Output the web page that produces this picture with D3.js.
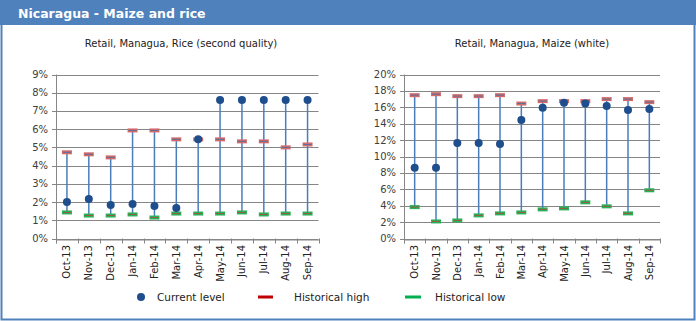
<!DOCTYPE html>
<html><head><meta charset="utf-8">
<script src="https://cdn.jsdelivr.net/npm/d3@7"></script>
<style>body{margin:0;background:#fff}svg{display:block}</style>
</head><body>
<svg id="c" width="696" height="321"></svg>
<script>
const months = ["Oct-13","Nov-13","Dec-13","Jan-14","Feb-14","Mar-14","Apr-14","May-14","Jun-14","Jul-14","Aug-14","Sep-14"];
const riceCurrent = [2.0,2.17,1.84,1.9,1.78,1.67,5.45,7.6,7.6,7.6,7.6,7.6];
const riceHigh = [4.73,4.62,4.45,5.93,5.93,5.44,5.44,5.44,5.33,5.33,5.0,5.16];
const riceLow = [1.43,1.26,1.26,1.32,1.15,1.37,1.37,1.37,1.43,1.32,1.37,1.37];
const maizeCurrent = [8.63,8.63,11.65,11.65,11.53,14.46,15.93,16.54,16.46,16.17,15.68,15.8];
const maizeHigh = [17.48,17.6,17.36,17.36,17.48,16.46,16.75,16.75,16.75,17.0,17.0,16.63];
const maizeLow = [3.83,2.08,2.2,2.82,3.06,3.18,3.55,3.67,4.41,3.92,3.06,5.88];
const riceTicks = [0,1,2,3,4,5,6,7,8,9];
const maizeTicks = [0,2,4,6,8,10,12,14,16,18,20];
const title = "Nicaragua - Maize and rice";
const riceTitle = "Retail, Managua, Rice (second quality)";
const maizeTitle = "Retail, Managua, Maize (white)";
const legendItems = ["Current level","Historical high","Historical low"];

const svg = d3.select("#c");
const blue = "#4f81bd";
const font = "'DejaVu Sans', Verdana, sans-serif";

// frame
svg.append("rect").attr("x",0).attr("y",0).attr("width",696).attr("height",25).attr("fill",blue);
svg.append("path").attr("d","M1.5,25 V319.5 H694.5 V25").attr("fill","none").attr("stroke",blue).attr("stroke-width",2);
svg.append("text").attr("x",18).attr("y",17.5).attr("fill","#fff").attr("font-family",font)
  .attr("font-weight","bold").attr("font-size",12.5).text(title);

function panel(cfg){
  const g = svg.append("g");
  const x = d3.scaleBand().domain(months).range([cfg.x0,cfg.x1]);
  const y = d3.scaleLinear().domain([0,cfg.max]).range([238.5,74.5]);
  g.append("text").attr("x",cfg.tx).attr("y",47).attr("text-anchor","middle")
    .attr("font-family",font).attr("font-size",10).attr("fill","#222").text(cfg.title);
  // gridlines
  g.selectAll(".grid").data(cfg.ticks).join("line")
    .attr("x1",cfg.x0-4).attr("x2",cfg.x1).attr("y1",d=>Math.round(y(d))+0.5).attr("y2",d=>Math.round(y(d))+0.5)
    .attr("stroke","#868686").attr("stroke-width",1);
  g.selectAll(".yl").data(cfg.ticks).join("text")
    .attr("x",cfg.x0-8).attr("y",d=>y(d)+3.5).attr("text-anchor","end")
    .attr("font-family",font).attr("font-size",10).attr("fill","#404040").text(d=>d+"%");
  // axes
  g.append("line").attr("x1",cfg.x0+0.5).attr("x2",cfg.x0+0.5).attr("y1",y(cfg.max)).attr("y2",y(0)+5)
    .attr("stroke","#868686");
  const xa = g.append("g").attr("transform",`translate(0,${Math.round(y(0))+0.5})`)
    .call(d3.axisBottom(x).tickSize(0).tickFormat(""));
  xa.select(".domain").attr("stroke","#868686");
  const bounds = months.map(m=>x(m)).concat([cfg.x1]);
  g.selectAll(".xt").data(bounds).join("line")
    .attr("x1",d=>Math.round(d)+0.5).attr("x2",d=>Math.round(d)+0.5).attr("y1",y(0)).attr("y2",y(0)+5).attr("stroke","#868686");
  g.selectAll(".xl").data(months).join("text")
    .attr("transform",d=>`translate(${x(d)+x.bandwidth()/2+3.5},245) rotate(-90)`)
    .attr("text-anchor","end").attr("font-family",font).attr("font-size",10).attr("fill","#222").text(d=>d);
  const cx = d=>x(d)+x.bandwidth()/2;
  const rows = months.map((m,i)=>({m,c:cfg.cur[i],h:cfg.hi[i],l:cfg.lo[i]}));
  g.selectAll(".hl").data(rows).join("line")
    .attr("x1",d=>cx(d.m)).attr("x2",d=>cx(d.m))
    .attr("y1",d=>y(Math.max(d.c,d.h))).attr("y2",d=>y(Math.min(d.c,d.l)))
    .attr("stroke","#4a7ebb").attr("stroke-width",1.5);
  function marker(sel,key,fill,mid){
    sel.append("g").selectAll("rect").data(rows).join("rect")
      .attr("x",d=>cx(d.m)-5).attr("y",d=>y(d[key])-2).attr("width",10).attr("height",4)
      .attr("fill",fill);
    sel.append("g").selectAll("line").data(rows).join("line")
      .attr("x1",d=>cx(d.m)-4).attr("x2",d=>cx(d.m)+4).attr("y1",d=>y(d[key])).attr("y2",d=>y(d[key]))
      .attr("stroke",mid).attr("stroke-width",1);
  }
  marker(g,"h","#d46a6a","#5a6f9a");
  marker(g,"l","#27b158","#9a5a40");
  g.selectAll(".dot").data(rows).join("circle")
    .attr("cx",d=>cx(d.m)).attr("cy",d=>y(d.c)).attr("r",4).attr("fill","#1f4e8c");
}
panel({x0:56,x1:318.5,max:9,ticks:riceTicks,cur:riceCurrent,hi:riceHigh,lo:riceLow,title:riceTitle,tx:181});
panel({x0:404,x1:660,max:20,ticks:maizeTicks,cur:maizeCurrent,hi:maizeHigh,lo:maizeLow,title:maizeTitle,tx:532});

// legend
const lg = svg.append("g");
const lx = [141,258,405];
const tx = [157,294,435];
lg.append("circle").attr("cx",lx[0]).attr("cy",297).attr("r",4).attr("fill","#1f4e8c");
lg.append("rect").attr("x",lx[1]).attr("y",295.5).attr("width",15).attr("height",3).attr("fill","#c00000");
lg.append("rect").attr("x",lx[2]).attr("y",295.5).attr("width",16).attr("height",3).attr("fill","#00b050");
lg.selectAll("text").data(legendItems).join("text")
  .attr("x",(d,i)=>tx[i]).attr("y",301).attr("font-family",font).attr("font-size",10.5).attr("fill","#222").text(d=>d);
</script>
</body></html>
